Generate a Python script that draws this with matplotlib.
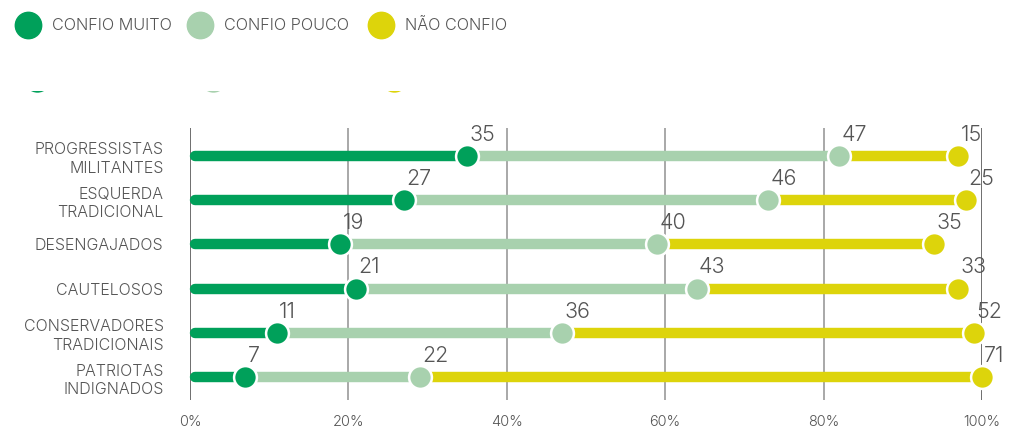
import matplotlib.pyplot as plt
import numpy as np
from matplotlib.lines import Line2D
from matplotlib.patches import Rectangle

# survey data: share (%) per segment
segments = ['PROGRESSISTAS\nMILITANTES', 'ESQUERDA\nTRADICIONAL', 'DESENGAJADOS',
            'CAUTELOSOS', 'CONSERVADORES\nTRADICIONAIS', 'PATRIOTAS\nINDIGNADOS']
confio_muito = [35, 27, 19, 21, 11, 7]
confio_pouco = [47, 46, 40, 43, 36, 22]
nao_confio = [15, 25, 35, 33, 52, 71]

series_names = ['CONFIO MUITO', 'CONFIO POUCO', 'NÃO CONFIO']
colors = ['#00A05A', '#A8D1AE', '#DDD40B']
text_color = '#555555'

plt.rcParams['font.family'] = ['Inter', 'DejaVu Sans']
plt.rcParams['font.weight'] = 300

fig = plt.figure(figsize=(10.13, 4.29), dpi=100)
ax = fig.add_axes([190 / 1013, 1 - 400 / 429, (982 - 190) / 1013, (400 - 128) / 429])

values = np.array([confio_muito, confio_pouco, nao_confio])
ends = np.cumsum(values, axis=0)
starts = np.vstack([np.zeros(len(segments)), ends[:-1]])

# vertical grid
for x in [0, 20, 40, 60, 80, 100]:
    ax.axvline(x, color='#555555' if x in (0, 100) else '#999999', lw=1.2, zorder=0)

y = np.arange(len(segments))
for k in range(3):
    for i in range(len(segments)):
        ax.plot([starts[k, i] + 0.6, ends[k, i]], [y[i], y[i]], color=colors[k],
                lw=7.5, solid_capstyle='round', zorder=2, clip_on=False)
for k in range(3):
    ax.scatter(ends[k], y, s=270, color=colors[k], edgecolor='white',
               linewidth=1.8, zorder=3 + k, clip_on=False)
    for i in range(len(segments)):
        ax.annotate(str(values[k, i]), (ends[k, i], y[i]), xytext=(1.5, 11),
                    textcoords='offset points', ha='left', va='baseline',
                    fontsize=15.5, color=text_color, zorder=6)

ax.set_xlim(0, 100)
ax.set_ylim(5.52, -0.633)
ax.set_yticks(y)
ax.set_yticklabels(segments, fontsize=11.5, color=text_color, linespacing=1.3)
ax.set_xticks([0, 20, 40, 60, 80, 100])
ax.set_xticklabels([f'{t}%' for t in [0, 20, 40, 60, 80, 100]], fontsize=10.5,
                   color=text_color)
ax.tick_params(length=0)
ax.tick_params(axis='y', pad=19)
ax.tick_params(axis='x', pad=11)
for s in ax.spines.values():
    s.set_visible(False)

# legend across the top
legend_x = [28, 200, 381]
for lx, name, c in zip(legend_x, series_names, colors):
    fig.add_artist(Line2D([lx / 1013], [1 - 25 / 429], marker='o', markersize=19,
                          color=c, linestyle='none', transform=fig.transFigure))
    fig.text((lx + 24) / 1013, 1 - 25 / 429, name, fontsize=11.7, color=text_color,
             va='center', ha='left')

# second legend row, mostly hidden under the header band
for lx, c in zip([37, 213, 394], colors):
    fig.add_artist(Line2D([lx / 1013], [1 - 79 / 429], marker='o', markersize=19,
                          markeredgewidth=0, color=c, linestyle='none',
                          transform=fig.transFigure, zorder=1))
fig.add_artist(Rectangle((0, 1 - 91 / 429), 1, 46 / 429, transform=fig.transFigure,
                         facecolor='white', edgecolor='none', zorder=2))

fig.savefig('out.png', dpi=100)
